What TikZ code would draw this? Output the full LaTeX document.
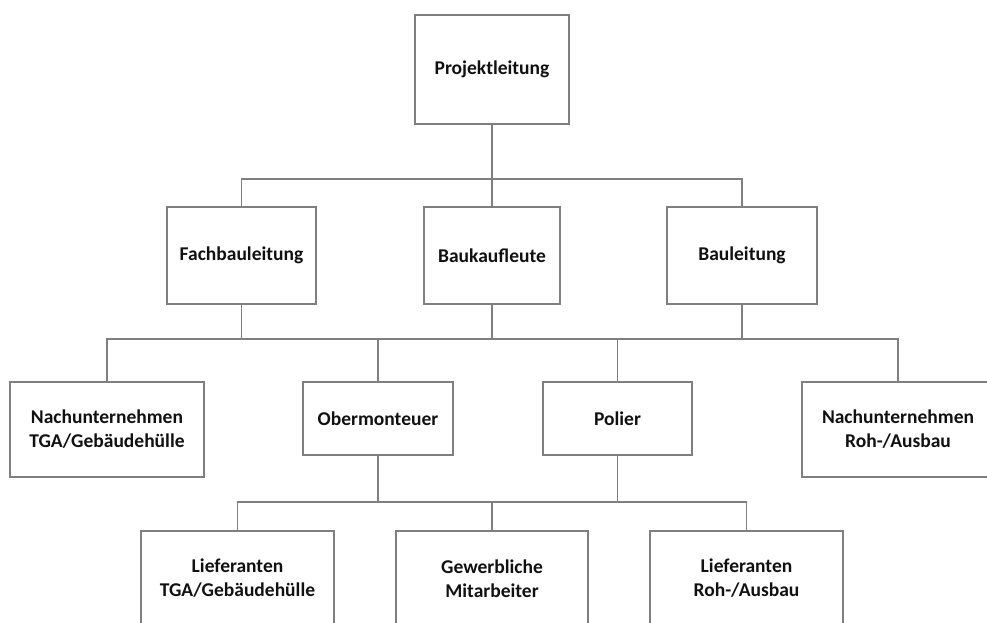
\documentclass[tikz,border=0pt]{standalone}
\usepackage{fontspec}
\setmainfont{Carlito}
\usepackage{tikz}
\usetikzlibrary{positioning, calc}
\definecolor{framegray}{HTML}{7F7F7F}
\definecolor{textdark}{HTML}{111111}
\tikzset{
  orgbox/.style={draw=framegray, line width=1.6pt, fill=white, text=textdark, align=center,
    inner sep=0pt, font=\bfseries\fontsize{19.5}{24}\selectfont},
  orgline/.style={draw=framegray, line width=1.6pt}
}

\begin{document}
\begin{tikzpicture}[x=1pt, y=-1pt]
  % Canvas (boxes at the right and bottom run off the edge)
  \useasboundingbox (0,0) rectangle (987,623);
  \clip (0,0) rectangle (987,623);

  % Bus lines
  \coordinate (busA) at (0,179);
  \coordinate (busB) at (0,339);
  \coordinate (busC) at (0,502);

  % Level 1 - Projektleitung
  \node[orgbox, minimum width=154, minimum height=109] (pl) at (492,69.5) {Projektleitung};

  % Level 2 - three leads
  \node[orgbox, minimum width=149, minimum height=97] (fach) at (241.5,255.5) {Fachbauleitung};
  \node[orgbox, minimum width=136, minimum height=97] (bauk) at (492,255.5) {Baukaufleute};
  \node[orgbox, minimum width=150, minimum height=97] (baul) at (742,255.5) {Bauleitung};

  % Level 3 - site staff and subcontractors
  \node[orgbox, minimum width=194, minimum height=95] (nutga) at (107,429.5) {Nachunternehmen\\TGA/Gebäudehülle};
  \node[orgbox, minimum width=150, minimum height=73] (ober) at (378,418.5) {Obermonteuer};
  \node[orgbox, minimum width=149, minimum height=73] (polier) at (617.5,418.5) {Polier};
  \node[orgbox, minimum width=192, minimum height=95] (nuroh) at (898,429.5) {Nachunternehmen\\Roh-/Ausbau};

  % Level 4 - suppliers and workers
  \node[orgbox, minimum width=193, minimum height=95] (lftga) at (237.5,578.5) {Lieferanten\\TGA/Gebäudehülle};
  \node[orgbox, minimum width=192, minimum height=95] (gew) at (492,578.5) {Gewerbliche\\Mitarbeiter};
  \node[orgbox, minimum width=193, minimum height=95] (lfroh) at (746.5,578.5) {Lieferanten\\Roh-/Ausbau};

  % Connectors level 1 -> 2
  \draw[orgline] (pl.south) -- (bauk.north);
  \draw[orgline] (fach.north) -- (fach.north |- busA) -- (baul.north |- busA) -- (baul.north);

  % Connectors level 2 -> 3
  \draw[orgline] (fach.south) -- (fach.south |- busB);
  \draw[orgline] (bauk.south) -- (bauk.south |- busB);
  \draw[orgline] (baul.south) -- (baul.south |- busB);
  \draw[orgline] (nutga.north) -- (nutga.north |- busB) -- (nuroh.north |- busB) -- (nuroh.north);
  \draw[orgline] (ober.north) -- (ober.north |- busB);
  \draw[orgline] (polier.north) -- (polier.north |- busB);

  % Connectors level 3 -> 4
  \draw[orgline] (ober.south) -- (ober.south |- busC);
  \draw[orgline] (polier.south) -- (polier.south |- busC);
  \draw[orgline] (lftga.north) -- (lftga.north |- busC) -- (lfroh.north |- busC) -- (lfroh.north);
  \draw[orgline] (gew.north) -- (gew.north |- busC);
\end{tikzpicture}
\end{document}
